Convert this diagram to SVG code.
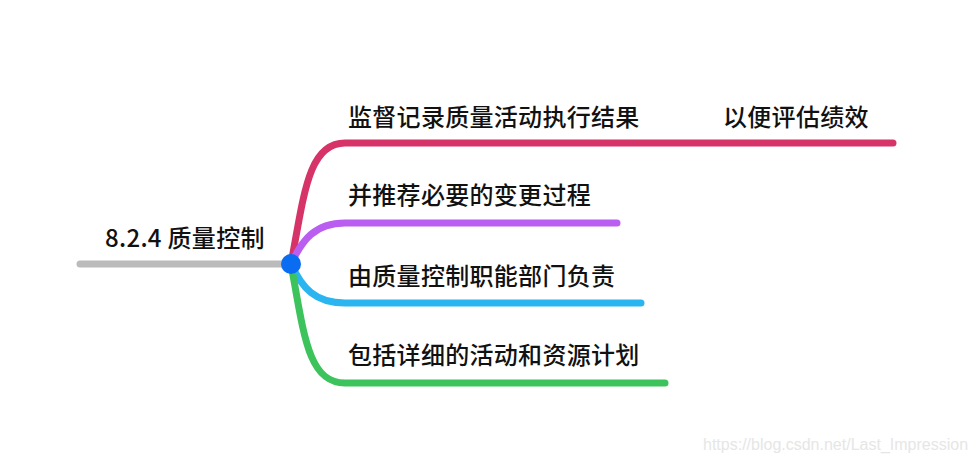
<svg xmlns="http://www.w3.org/2000/svg" width="973" height="464" viewBox="0 0 973 464">
<style>
.t{font-family:"Noto Sans CJK SC","Noto Sans",sans-serif;font-size:24px;letter-spacing:0.3px;fill:#111;font-weight:500}
.root{font-weight:500}
.c{fill:none;stroke-width:7;stroke-linecap:round;stroke-linejoin:round}
.wm{font-family:"Liberation Sans",Arial,sans-serif;font-size:16px;fill:#e6e6e6}
</style>
<rect width="973" height="464" fill="#fff"/>
<g id="connectors">
<path class="c" stroke="#bbbbbb" d="M80,264 L291,264"/>
<path class="c" stroke="#d63368" d="M291,264 C304,195 308,143 345,143 L893,143"/>
<path class="c" stroke="#b95ef0" d="M291,264 C302,240 315,223 345,223 L617,223"/>
<path class="c" stroke="#2bb5f0" d="M291,264 C302,288 315,303 345,303 L641,303"/>
<path class="c" stroke="#3cc35c" d="M291,264 C304,335 308,383 345,383 L665,383"/>
</g>
<g id="root">
<text class="t root" x="105" y="247">8.2.4 质量控制</text>
<circle cx="291" cy="264" r="10" fill="#0a6cf0"/>
</g>
<g id="n1"><text class="t" x="348" y="126">监督记录质量活动执行结果</text><text class="t" x="723" y="126">以便评估绩效</text></g>
<g id="n2"><text class="t" x="348" y="204">并推荐必要的变更过程</text></g>
<g id="n3"><text class="t" x="348" y="285">由质量控制职能部门负责</text></g>
<g id="n4"><text class="t" x="348" y="364">包括详细的活动和资源计划</text></g>
<text class="wm" x="703" y="450">https://blog.csdn.net/Last_Impression</text>
</svg>
